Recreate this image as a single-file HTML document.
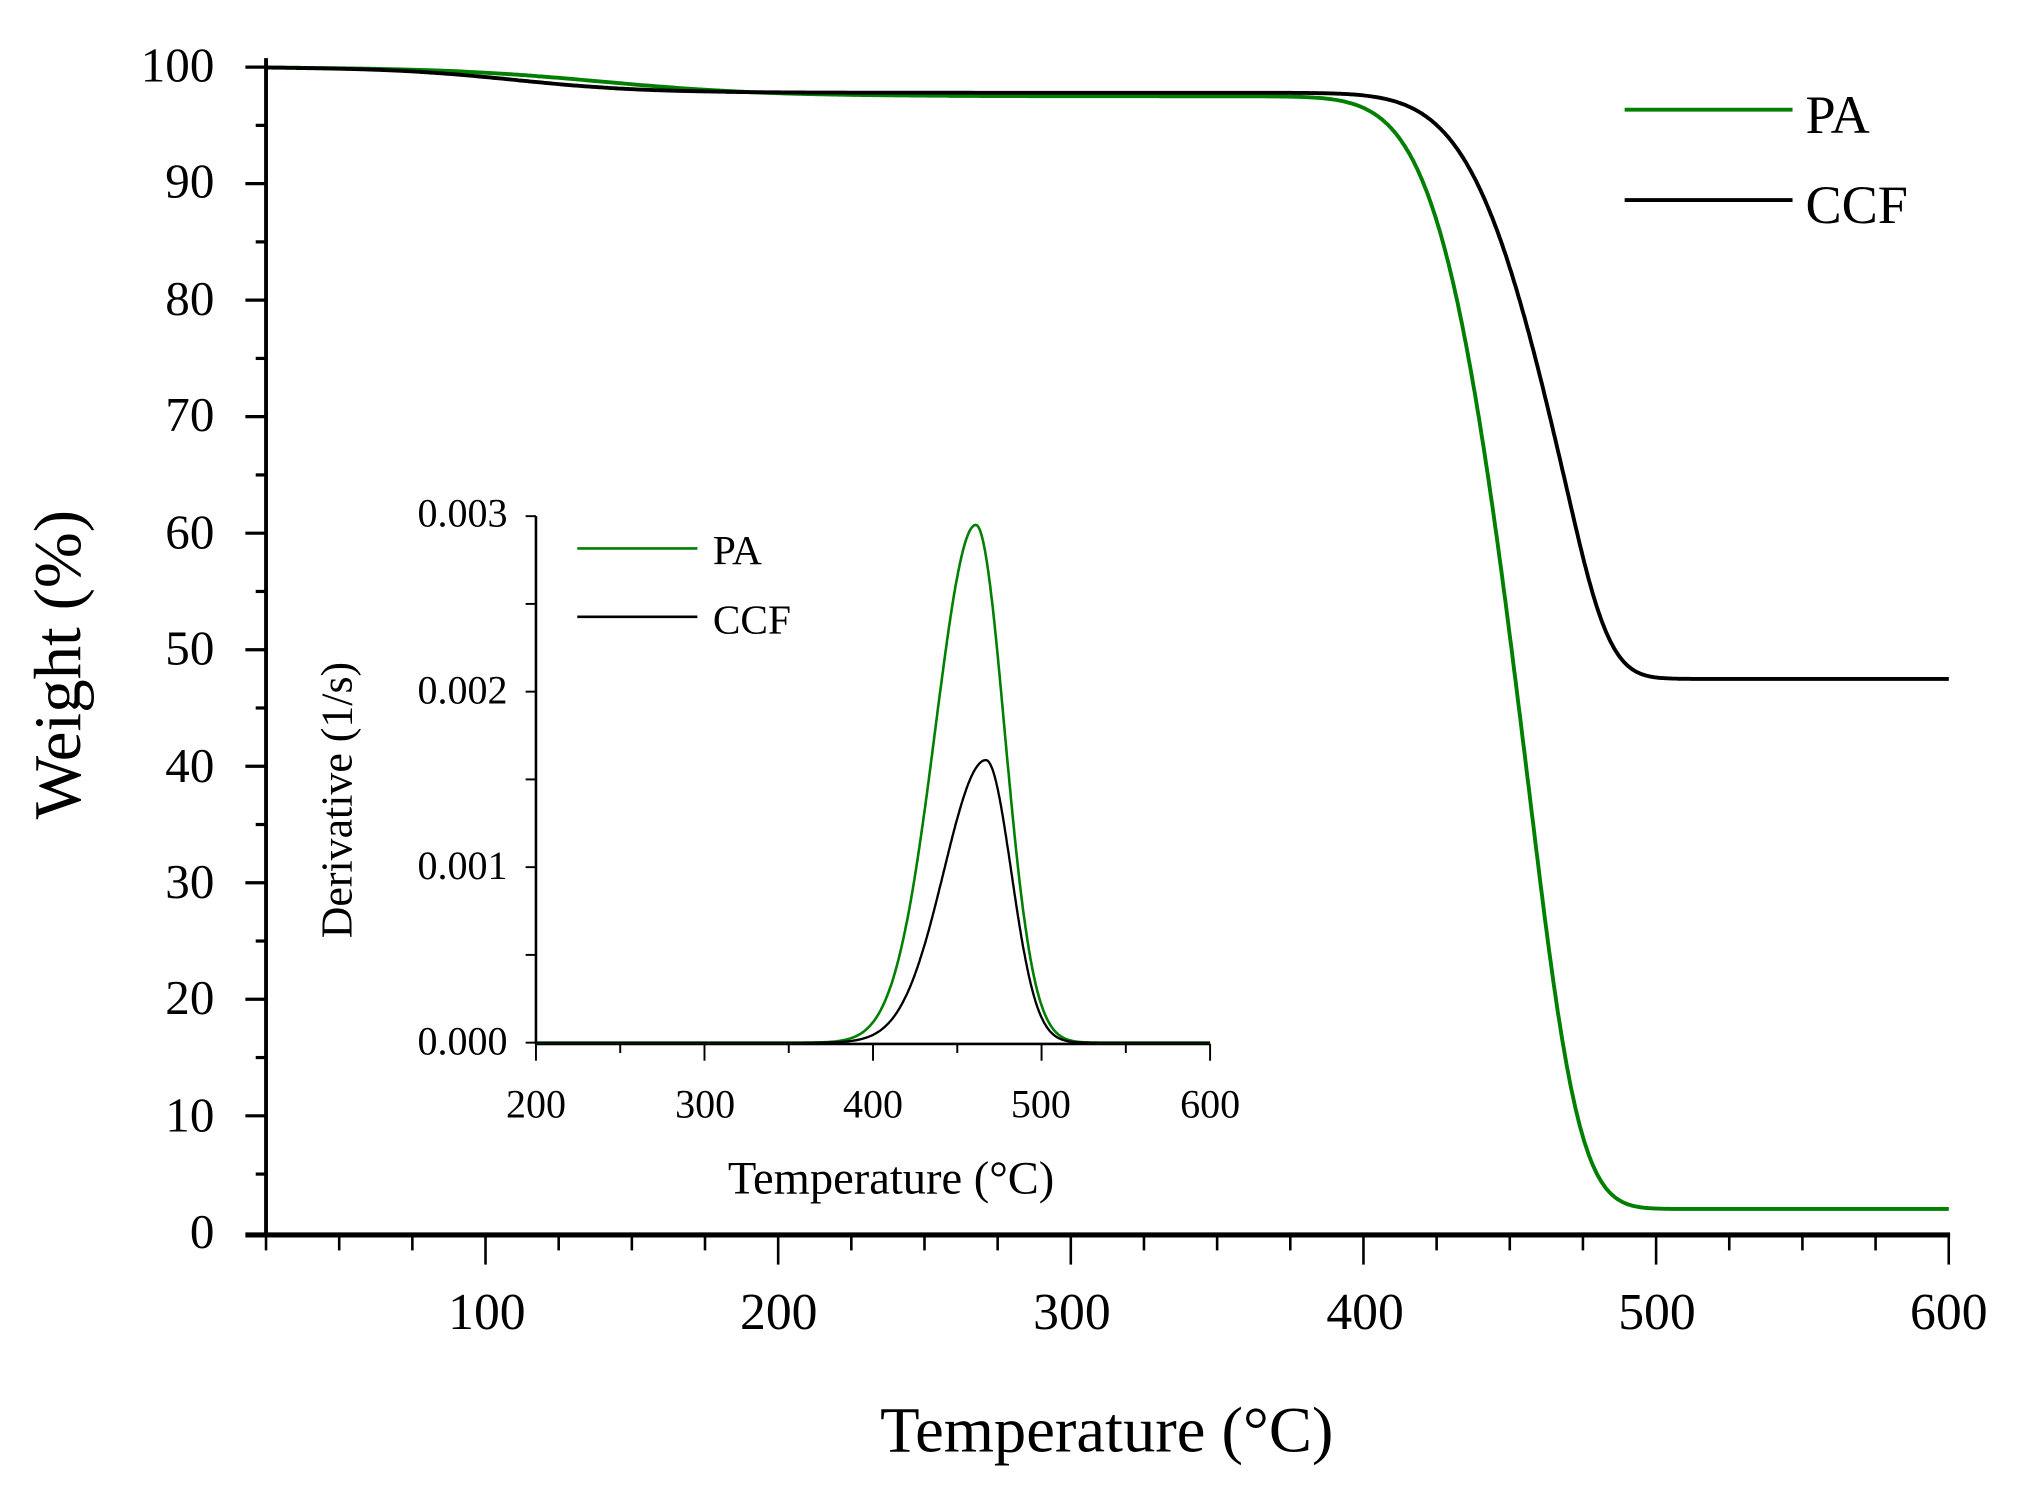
<!DOCTYPE html>
<html><head><meta charset="utf-8"><style>
html,body{margin:0;padding:0;background:#fff;}
svg{display:block;}
text{font-family:"Liberation Serif",serif;fill:#000;}
</style></head><body>
<svg id="s" width="2025" height="1493" viewBox="0 0 1568 1157" preserveAspectRatio="none" xmlns="http://www.w3.org/2000/svg">
<rect width="1568" height="1157" fill="#fff"/>
<g id="main"></g>
<line x1="206" y1="45" x2="206" y2="957" stroke="#000" stroke-width="3"/>
<line x1="190" y1="957" x2="1510" y2="957" stroke="#000" stroke-width="4"/>
<g font-size="38" text-anchor="end">
<text x="166" y="63">100</text><text x="166" y="153">90</text><text x="166" y="244">80</text>
<text x="166" y="334">70</text><text x="166" y="425">60</text><text x="166" y="515">50</text>
<text x="166" y="606">40</text><text x="166" y="696">30</text><text x="166" y="786">20</text>
<text x="166" y="877">10</text><text x="166" y="967">0</text>
</g>
<g font-size="40" text-anchor="middle">
<text x="377" y="1030">100</text><text x="603" y="1030">200</text><text x="830" y="1030">300</text>
<text x="1057" y="1030">400</text><text x="1283" y="1030">500</text><text x="1509" y="1030">600</text>
</g>
<text x="857" y="1125" font-size="50" text-anchor="middle">Temperature (°C)</text>
<text transform="translate(62,515) rotate(-90)" font-size="52" text-anchor="middle">Weight (%)</text>
<line x1="1258" y1="85" x2="1388" y2="85" stroke="#007f00" stroke-width="3"/>
<text x="1398" y="103" font-size="42">PA</text>
<line x1="1258" y1="155" x2="1388" y2="155" stroke="#000" stroke-width="3"/>
<text x="1398" y="173" font-size="42">CCF</text>
<line x1="415" y1="400" x2="415" y2="809" stroke="#000" stroke-width="2"/>
<line x1="415" y1="809" x2="937" y2="809" stroke="#000" stroke-width="2"/>
<g font-size="31" text-anchor="end">
<text x="393" y="408">0.003</text><text x="393" y="545">0.002</text>
<text x="393" y="681">0.001</text><text x="393" y="817">0.000</text>
</g>
<g font-size="31" text-anchor="middle">
<text x="415" y="866">200</text><text x="546" y="866">300</text><text x="676" y="866">400</text>
<text x="806" y="866">500</text><text x="937" y="866">600</text>
</g>
<text x="690" y="925" font-size="36" text-anchor="middle">Temperature (°C)</text>
<text transform="translate(272,620) rotate(-90)" font-size="34" text-anchor="middle">Derivative (1/s)</text>
<line x1="447" y1="425" x2="540" y2="425" stroke="#007f00" stroke-width="2"/>
<text x="552" y="437" font-size="32">PA</text>
<line x1="447" y1="478" x2="540" y2="478" stroke="#000" stroke-width="2"/>
<text x="552" y="491" font-size="32">CCF</text>
<g id="ins"></g>
</svg>
<script>
var NS="http://www.w3.org/2000/svg";
function el(p,t,a){var e=document.createElementNS(NS,t);for(var k in a)e.setAttribute(k,a[k]);p.appendChild(e);return e;}
var g=document.getElementById('main'), s=document.getElementById('s');
function X(T){return 206+(T-25)*2.266;}
function Y(w){return 955-w*9.03;}
for(var T=25;T<=600;T+=25){var maj=(T%100==0);el(s,'line',{x1:X(T),y1:957,x2:X(T),y2:maj?980:969,stroke:'#000','stroke-width':2});}
for(var w=5;w<=100;w+=5){var maj=(w%10==0);el(s,'line',{x1:maj?190:198,y1:Y(w),x2:206,y2:Y(w),stroke:'#000','stroke-width':2.5});}
function lg(T,m,s){return 1/(1+Math.exp((T-m)/s));}
function ag(T,m,a,sl,sr){var s=T<m?sl:sr;return a*Math.exp(-0.5*Math.pow((T-m)/s,2));}
function cdf(m,sl,sr){var tab={},sum=0,tot=0,T;for(T=0;T<=700;T+=0.5)tot+=ag(T,m,1,sl,sr);
 for(T=0;T<=700;T+=0.5){sum+=ag(T,m,1,sl,sr);tab[T]=sum/tot;}return function(t){return tab[Math.round(t*2)/2]||0;};}
var cpa=cdf(458,24,13), ccc=cdf(471,26,11);
function pa(T){var base=100-2.5*(1-lg(T,140,28));return base-(base-2)*cpa(T);}
function ccf(T){var base=100-2.2*(1-lg(T,110,22));return base-(base-47.5)*ccc(T);}
function path(f,col,w,par,xf,yf,t0,t1){var d='';for(var T=t0;T<=t1;T+=0.5){d+=(d?'L':'M')+xf(T).toFixed(1)+' '+yf(f(T)).toFixed(1);}el(par,'path',{d:d,fill:'none',stroke:col,'stroke-width':w});}
path(pa,'#007f00',3,g,X,Y,25,600);
path(ccf,'#000',3,g,X,Y,25,600);
var ins=document.getElementById('ins');
function XI(T){return 415+(T-200)*1.305;}
function YI(v){return 808-v*136000;}
for(var T=200;T<=600;T+=50){var maj=(T%100==0);el(s,'line',{x1:XI(T),y1:809,x2:XI(T),y2:maj?822:816,stroke:'#000','stroke-width':1.5});}
for(var v=0;v<=0.003001;v+=0.0005){el(s,'line',{x1:407,y1:YI(v),x2:415,y2:YI(v),stroke:'#000','stroke-width':1.5});}
function dpa(T){return ag(T,461,0.00295,24,17);}
function dcc(T){return ag(T,467,0.00161,25,15);}
path(dpa,'#007f00',2,ins,XI,YI,200,600);
path(dcc,'#000',1.8,ins,XI,YI,200,600);
</script>
</body></html>
